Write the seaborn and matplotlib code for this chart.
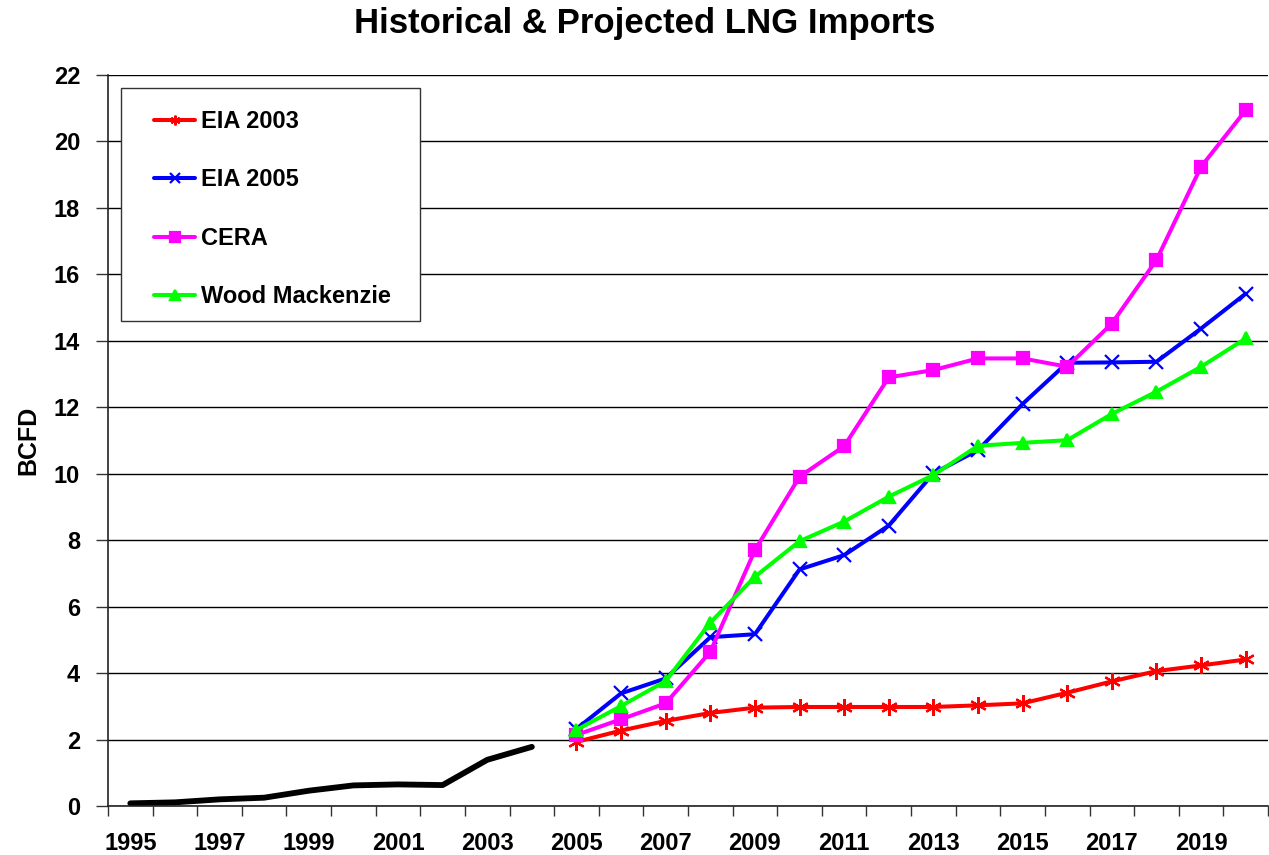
import matplotlib
matplotlib.use("Agg")
import matplotlib.pyplot as plt
import seaborn as sns
import pandas as pd
import numpy as np
from matplotlib.ticker import MultipleLocator, FixedLocator
from matplotlib.patches import Rectangle

sns.set_theme(style="white")
plt.rcParams['font.family'] = ['Liberation Sans', 'DejaVu Sans']
plt.rcParams['font.weight'] = 'bold'
plt.rcParams['text.color'] = 'black'
plt.rcParams['axes.labelcolor'] = 'black'
plt.rcParams['xtick.color'] = 'black'
plt.rcParams['ytick.color'] = 'black'

hist_years = [1995, 1996, 1997, 1998, 1999, 2000, 2001, 2002, 2003, 2004]
hist_vals = [0.08, 0.11, 0.20, 0.25, 0.46, 0.62, 0.65, 0.63, 1.39, 1.78]

proj_years = list(range(2005, 2021))
eia2003 = [1.93, 2.27, 2.56, 2.80, 2.96, 2.98, 2.98, 2.98, 2.98, 3.03, 3.09, 3.41, 3.75, 4.06, 4.23, 4.41]
eia2005 = [2.32, 3.39, 3.84, 5.08, 5.17, 7.12, 7.55, 8.44, 10.01, 10.71, 12.10, 13.34, 13.35, 13.37, 14.37, 15.42]
cera = [2.14, 2.61, 3.09, 4.64, 7.70, 9.91, 10.83, 12.90, 13.12, 13.47, 13.47, 13.22, 14.52, 16.43, 19.24, 20.94]
woodmac = [2.29, 3.01, 3.76, 5.52, 6.90, 7.97, 8.56, 9.31, 9.96, 10.84, 10.93, 11.01, 11.80, 12.47, 13.22, 14.07]

series_names = ["EIA 2003", "EIA 2005", "CERA", "Wood Mackenzie"]
series_vals = [eia2003, eia2005, cera, woodmac]
series_colors = ["#FF0000", "#0000FF", "#FF00FF", "#00FF00"]
series_markers = [(6, 2, 0), "x", "s", "^"]
series_msize = [12, 10, 8, 9]

title = "Historical & Projected LNG Imports"
ylabel = "BCFD"
xtick_labels = [str(y) for y in range(1995, 2021, 2)]

fig = plt.figure(figsize=(12.69, 8.55), dpi=100)
ax = fig.add_axes([108/1269, 1 - 806/855, 1160/1269, (806 - 75)/855])

hist_df = pd.DataFrame({"year": hist_years, "value": hist_vals})
sns.lineplot(data=hist_df, x="year", y="value", ax=ax, color="black", linewidth=4.2,
             legend=False)

for name, vals, col, mk, ms in zip(series_names, series_vals, series_colors, series_markers, series_msize):
    df = pd.DataFrame({"year": proj_years, "value": vals})
    sns.lineplot(data=df, x="year", y="value", ax=ax, color=col, linewidth=2.9,
                 marker=mk, markersize=ms, markeredgecolor=col, markerfacecolor=col,
                 markeredgewidth=1.6, label=name)

ax.set_xlim(1994.5, 2020.5)
ax.set_ylim(0, 22)
ax.yaxis.set_major_locator(MultipleLocator(2))
ax.set_xticks([int(s) for s in xtick_labels])
ax.set_xticklabels(xtick_labels)
ax.xaxis.set_minor_locator(FixedLocator(np.arange(1994.5, 2021, 1.0)))
ax.tick_params(axis='x', which='major', length=0, pad=18.5, labelsize=17, labelcolor='black')
ax.tick_params(axis='x', which='minor', length=7, width=1, color='#333333', direction='out', bottom=True)
ax.tick_params(axis='y', which='major', length=9, width=1, color='#333333', direction='out', left=True,
               pad=11, labelsize=17, labelcolor='black')
for lab in ax.get_xticklabels() + ax.get_yticklabels():
    lab.set_fontweight('bold')
    lab.set_color('black')

ax.grid(axis='y', color='black', linewidth=1)
ax.grid(axis='x', visible=False)
ax.set_axisbelow(True)
for s in ['top', 'right']:
    ax.spines[s].set_visible(False)
for s in ['left', 'bottom']:
    ax.spines[s].set_color('#222222')
    ax.spines[s].set_linewidth(1.2)

ax.set_xlabel("")
ax.set_ylabel("")
fig.text(28/1269, 1 - 440/855, ylabel, rotation=90, ha='center', va='center',
         fontsize=18, fontweight='bold', color='black')
fig.text(645/1269, 1 - 24/855, title, ha='center', va='center',
         fontsize=25, fontweight='bold', color='black')

# legend frame (drawn as a box in axes coordinates)
frame = Rectangle((13/1160, (806 - 321)/731), 299/1160, (321 - 88)/731,
                  transform=ax.transAxes, facecolor='white', edgecolor='#333333',
                  linewidth=1.0, zorder=4)
ax.add_patch(frame)

leg = ax.legend(loc='upper left', bbox_to_anchor=((154 - 108)/1160, (806 - 110)/731), frameon=False,
                handlelength=1.75, handletextpad=0.25, labelspacing=1.5,
                borderpad=0, borderaxespad=0, prop={'weight': 'bold', 'size': 17})
leg.set_zorder(5)
for t in leg.get_texts():
    t.set_color('black')
for h in leg.legend_handles:
    h.set_markersize(7)

fig.savefig("out.png", dpi=100)
